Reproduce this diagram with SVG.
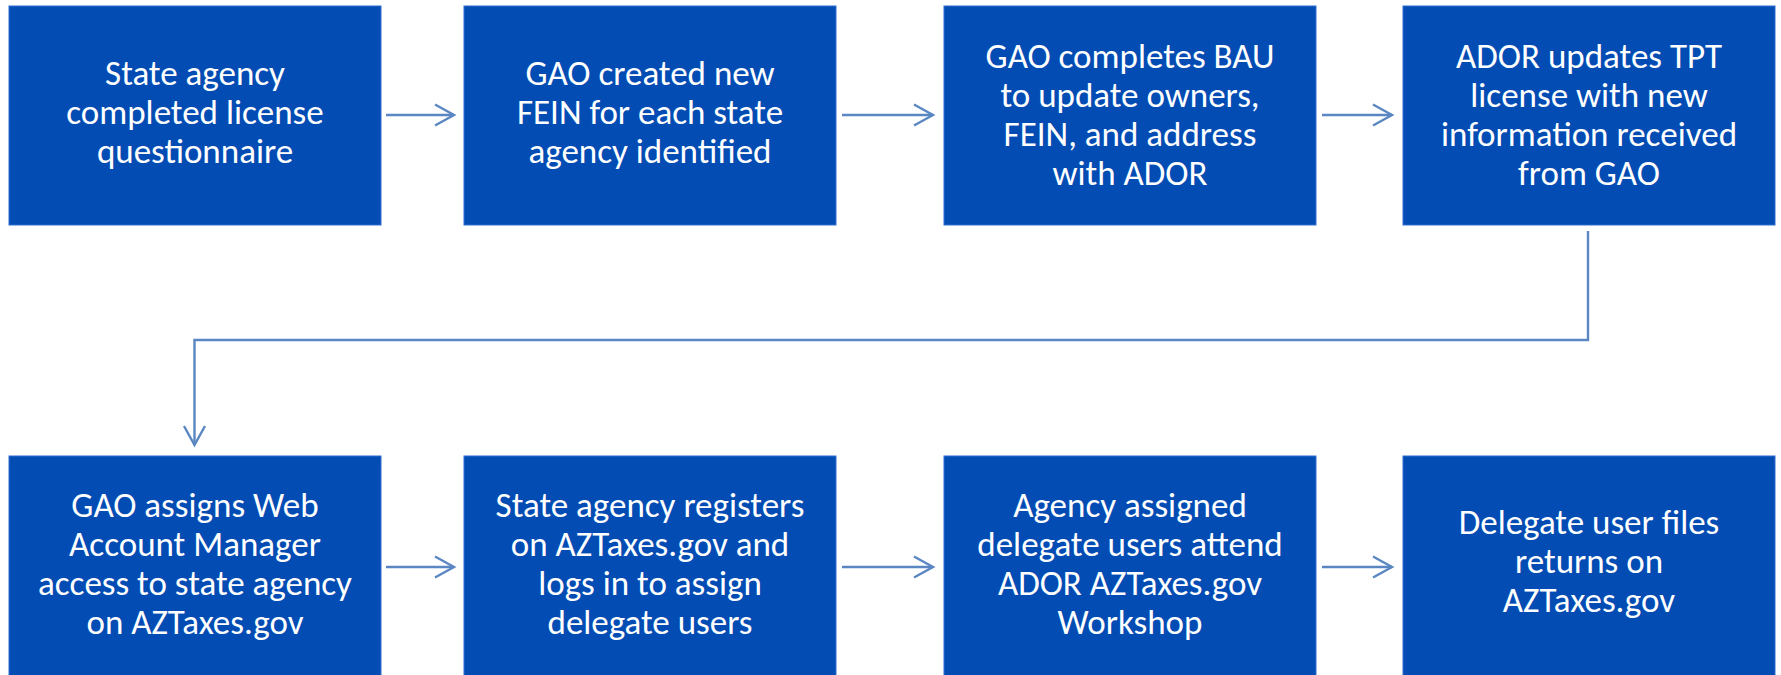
<svg xmlns="http://www.w3.org/2000/svg" width="1781" height="675" viewBox="0 0 1781 675">
  <style>
    .box { fill: #034cb4; stroke: #2f6fcf; stroke-width: 1; }
    .lbl { fill: #ffffff; font-family: Calibri, Carlito, "Open Sans", "Liberation Sans", sans-serif; font-size: 35px; text-anchor: middle; }
    .conn { fill: none; stroke: #5a87c2; stroke-width: 2.4; }
  </style>
  <defs>
    <marker id="open-arrow" markerUnits="userSpaceOnUse" markerWidth="30" markerHeight="30" refX="0" refY="0" viewBox="-24 -15 30 30" orient="auto" overflow="visible">
      <path d="M-19,-10.5 L0,0 L-19,10.5" fill="none" stroke="#5a87c2" stroke-width="2.4" stroke-linejoin="miter"/>
    </marker>
  </defs>

  <!-- top row -->
  <g id="step1">
    <rect class="box" x="9" y="6" width="372" height="219"/>
    <text class="lbl" x="195" y="84.5">State agency</text>
    <text class="lbl" x="195" y="123.5">completed license</text>
    <text class="lbl" x="195" y="162.5">questionnaire</text>
  </g>
  <g id="step2">
    <rect class="box" x="464" y="6" width="372" height="219"/>
    <text class="lbl" x="650" y="84.5">GAO created new</text>
    <text class="lbl" x="650" y="123.5">FEIN for each state</text>
    <text class="lbl" x="650" y="162.5">agency identified</text>
  </g>
  <g id="step3">
    <rect class="box" x="944" y="6" width="372" height="219"/>
    <text class="lbl" x="1130" y="68">GAO completes BAU</text>
    <text class="lbl" x="1130" y="107">to update owners,</text>
    <text class="lbl" x="1130" y="146">FEIN, and address</text>
    <text class="lbl" x="1130" y="185">with ADOR</text>
  </g>
  <g id="step4">
    <rect class="box" x="1403" y="6" width="372" height="219"/>
    <text class="lbl" x="1589" y="68">ADOR updates TPT</text>
    <text class="lbl" x="1589" y="107">license with new</text>
    <text class="lbl" x="1589" y="146">information received</text>
    <text class="lbl" x="1589" y="185">from GAO</text>
  </g>

  <!-- bottom row -->
  <g id="step5">
    <rect class="box" x="9" y="456" width="372" height="222"/>
    <text class="lbl" x="195" y="517">GAO assigns Web</text>
    <text class="lbl" x="195" y="556">Account Manager</text>
    <text class="lbl" x="195" y="595">access to state agency</text>
    <text class="lbl" x="195" y="634">on AZTaxes.gov</text>
  </g>
  <g id="step6">
    <rect class="box" x="464" y="456" width="372" height="222"/>
    <text class="lbl" x="650" y="517">State agency registers</text>
    <text class="lbl" x="650" y="556">on AZTaxes.gov and</text>
    <text class="lbl" x="650" y="595">logs in to assign</text>
    <text class="lbl" x="650" y="634">delegate users</text>
  </g>
  <g id="step7">
    <rect class="box" x="944" y="456" width="372" height="222"/>
    <text class="lbl" x="1130" y="517">Agency assigned</text>
    <text class="lbl" x="1130" y="556">delegate users attend</text>
    <text class="lbl" x="1130" y="595">ADOR AZTaxes.gov</text>
    <text class="lbl" x="1130" y="634">Workshop</text>
  </g>
  <g id="step8">
    <rect class="box" x="1403" y="456" width="372" height="222"/>
    <text class="lbl" x="1589" y="534">Delegate user files</text>
    <text class="lbl" x="1589" y="573">returns on</text>
    <text class="lbl" x="1589" y="612">AZTaxes.gov</text>
  </g>

  <!-- connectors -->
  <g id="connectors">
    <path class="conn" d="M386,115 H454" marker-end="url(#open-arrow)"/>
    <path class="conn" d="M842,115 H933" marker-end="url(#open-arrow)"/>
    <path class="conn" d="M1322,115 H1392" marker-end="url(#open-arrow)"/>
    <path class="conn" d="M1588,231 V340 H194.5 V445" marker-end="url(#open-arrow)"/>
    <path class="conn" d="M386,567 H454" marker-end="url(#open-arrow)"/>
    <path class="conn" d="M842,567 H933" marker-end="url(#open-arrow)"/>
    <path class="conn" d="M1322,567 H1392" marker-end="url(#open-arrow)"/>
  </g>
</svg>
